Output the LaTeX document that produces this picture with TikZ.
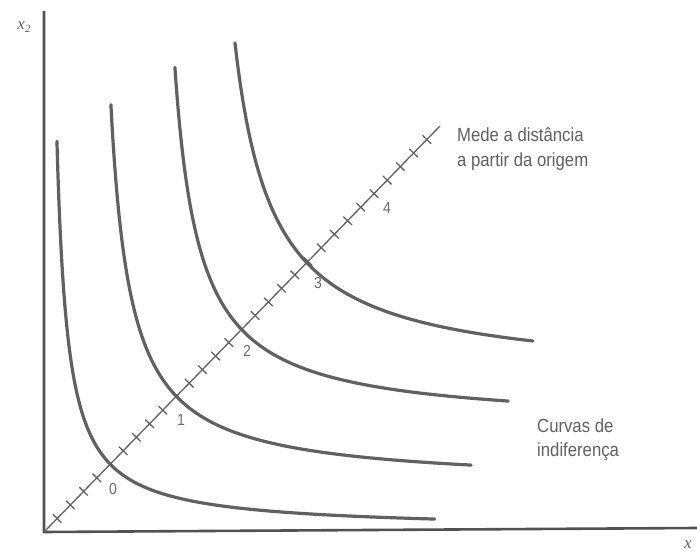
\documentclass[tikz,border=0pt]{standalone}
\usepackage{fontspec}
\setmainfont{Liberation Sans}[FakeStretch=0.88]
\newfontfamily\serifit{Liberation Serif}
\usetikzlibrary{calc}
\begin{document}
\begin{tikzpicture}[x=1pt,y=-1pt,
  curve/.style={draw=black!62, line width=3.2pt, line cap=round},
  axis/.style={draw=black!68, line width=2.6pt},
  tickmark/.style={draw=black!62, line width=1.3pt},
  lbl/.style={text=black!62, font=\fontsize{19}{25}\selectfont, anchor=base west, inner sep=0pt},
  num/.style={text=black!58, font=\fontsize{16}{16}\selectfont, inner sep=0pt},
  axlbl/.style={text=black!62, font=\fontsize{17}{17}\selectfont, inner sep=0pt}]
\useasboundingbox (0,0) rectangle (697,556);
\fill[white] (0,0) rectangle (697,556);
% axes
\coordinate (O) at (44,532);
\coordinate (T) at (44,11);
\coordinate (R) at (697,528);
\coordinate (E) at (440,126);
\draw[axis] (T) -- (O) -- (R);
\node[axlbl] (x2) at (24,27) {\serifit\itshape x\raisebox{-0.35ex}{\fontsize{11}{11}\selectfont 2}};
\node[axlbl, anchor=west] (x1) at (684,545) {\serifit\itshape x};
% indifference curves: (u-c)(v-c)=s^2, u=x-44, v=532-y
\foreach \c/\s/\tm in {2.1/64.9/1.79, 47/87/1.475, 106.5/93.5/1.343, 153/113/1.09}{
  \draw[curve] plot[smooth, domain=-\tm:\tm, samples=90, variable=\t]
    ({44+\c+\s*exp(\t)}, {532-\c-\s*exp(-\t)});
}
% diagonal ruler
\draw[tickmark] (O) -- (E);
\foreach \k in {1,...,30}{
  \coordinate (P\k) at ($(O)!\k/30!(E)$);
  \draw[tickmark] ($(P\k)!6pt!90:(E)$) -- ($(P\k)!6pt!-90:(E)$);
}
% numbers
\node[num] (n0) at (113,489) {0};
\node[num] (n1) at (181,420) {1};
\node[num] (n2) at (247,351) {2};
\node[num] (n3) at (318,283) {3};
\node[num] (n4) at (387,208) {4};
% labels
\node[lbl] (m1) at (457,142) {Mede a distância};
\node[lbl] (m2) at (457,167) {a partir da origem};
\node[lbl] (c1) at (537,432) {Curvas de};
\node[lbl] (c2) at (537,456) {indiferença};
\end{tikzpicture}
\end{document}
